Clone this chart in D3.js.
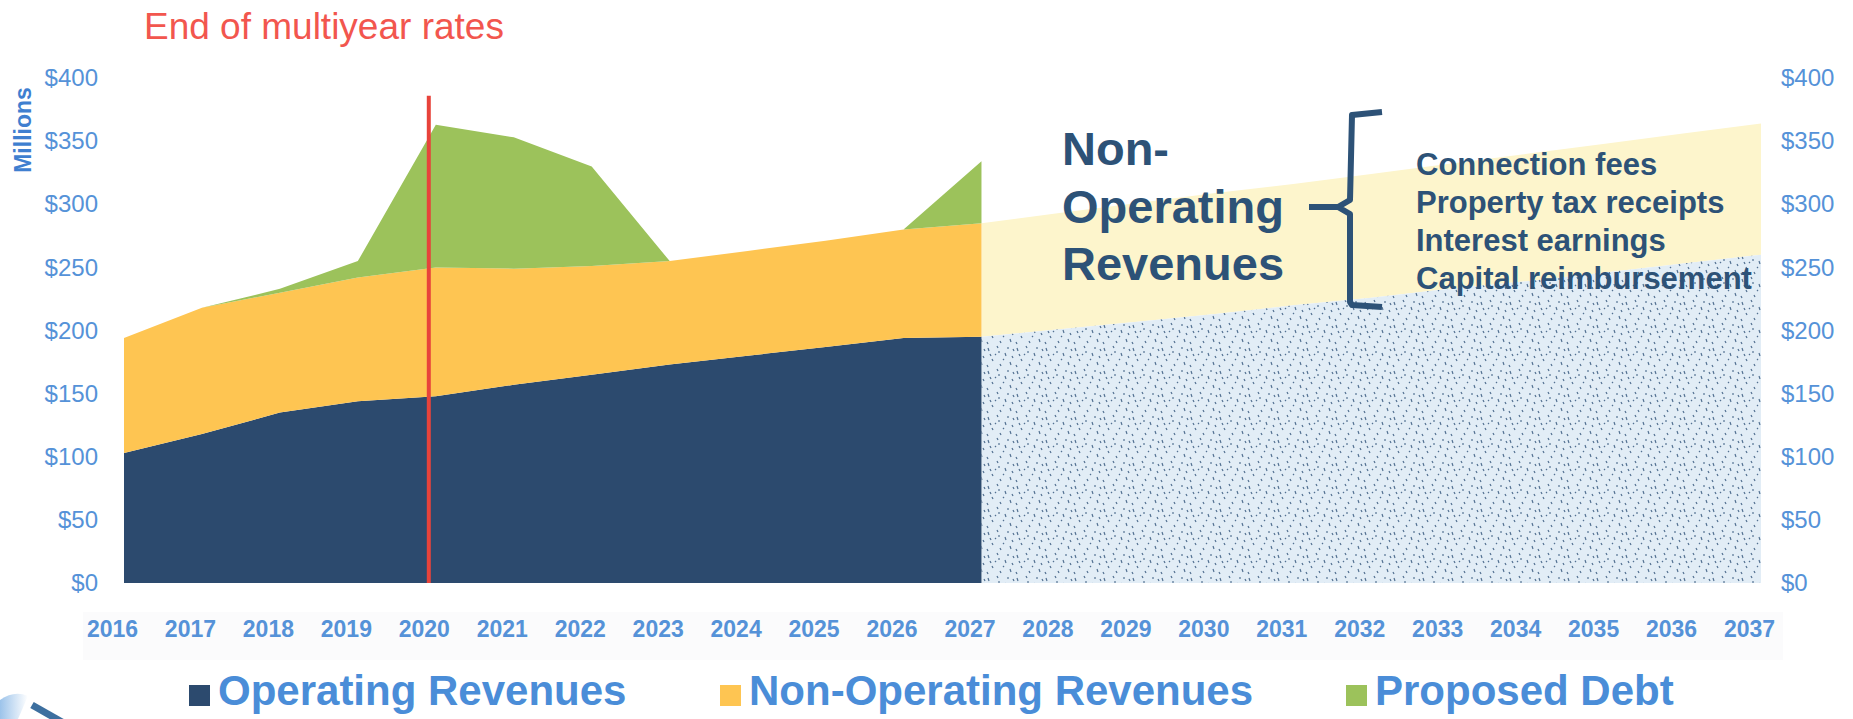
<html>
<head>
<style>
  body { margin: 0; background: #fff; }
  svg { display: block; font-family: "Liberation Sans", Arial, sans-serif; }
  .ytick text { fill: #5592d8; font-size: 24px; }
  .xtick text { fill: #5592d8; font-size: 23px; font-weight: bold; }
  .legend text { fill: #4a8dd8; font-size: 42px; font-weight: bold; }
  .note { fill: #2d5277; font-weight: bold; }
</style>
</head>
<body>
<svg id="container" width="1853" height="719"></svg>
<script src="https://cdn.jsdelivr.net/npm/d3@7"></script>
<script>
  // actual / budget years
  let years = [2016, 2017, 2018, 2019, 2020, 2021, 2022, 2023, 2024, 2025, 2026, 2027]
  let operating = [103, 118, 135, 144, 148, 157, 165, 173, 180, 187, 194, 195]
  let nonOperating = [91, 100, 95, 98, 102, 92, 86, 82, 83, 84, 86, 90]
  let proposedDebt = [0, 0, 3, 13, 113, 104, 79, 0, 0, 0, 0, 49]

  // faded projection, 2027 - 2037
  let projYears = [2027, 2028, 2029, 2030, 2031, 2032, 2033, 2034, 2035, 2036, 2037]
  let projOperating = [195, 201, 207, 213, 220, 226, 233, 239, 246, 253, 260]
  let projNonOperating = [90, 92, 94, 96, 96, 98, 99, 101, 102, 103, 104]

  let axisYears = [2016, 2017, 2018, 2019, 2020, 2021, 2022, 2023, 2024, 2025, 2026,
                   2027, 2028, 2029, 2030, 2031, 2032, 2033, 2034, 2035, 2036, 2037]
  let yTicks = [0, 50, 100, 150, 200, 250, 300, 350, 400]

  let seriesNames = ["Operating Revenues", "Non-Operating Revenues", "Proposed Debt"]
  let seriesColors = ["#2c4a6e", "#fec552", "#9cc25b"]

  let endOfRatesYear = 2019.91
  let endOfRatesTop = 386
  let noteLines = ["Connection fees", "Property tax receipts", "Interest earnings", "Capital reimbursement"]

  let svg = d3.select("#container")

  let xScale = d3.scaleLinear().domain([2016, 2037]).range([124, 1761])
  let yScale = d3.scaleLinear().domain([0, 400]).range([583, 78])

  // faint band behind the year labels
  svg.append("rect")
    .attr("x", 83).attr("y", 612).attr("width", 1700).attr("height", 48)
    .attr("fill", "#fbfbfc")

  // speckle texture for the faded operating projection
  let defs = svg.append("defs")
  let pat = defs.append("pattern")
    .attr("id", "speckle").attr("patternUnits", "userSpaceOnUse")
    .attr("width", 29).attr("height", 23)
  pat.append("rect").attr("width", 29).attr("height", 23).attr("fill", "#e2edf6")
  let marks = [[2, 3, 3, 6], [11, 1, 12, 3], [19, 8, 20, 11], [6, 14, 7, 16], [24, 17, 25, 20],
               [14, 19, 15, 21], [27, 4, 28, 6], [9, 9, 10, 10], [1, 20, 2, 22], [17, 14, 18, 15],
               [22, 2, 22, 4], [4, 9, 5, 11], [13, 6, 13, 8], [26, 11, 27, 13]]
  pat.selectAll("line").data(marks).join("line")
    .attr("x1", d => d[0]).attr("y1", d => d[1]).attr("x2", d => d[2]).attr("y2", d => d[3])
    .attr("stroke", "#2f5279").attr("stroke-width", 1.2).attr("opacity", 0.8)

  // projection areas
  let projData = projYears.map((y, i) => ({year: y, op: projOperating[i], non: projNonOperating[i]}))
  let projStack = d3.stack().keys(["op", "non"])(projData)
  let projArea = d3.area()
    .x(d => xScale(d.data.year))
    .y0(d => yScale(d[0]))
    .y1(d => yScale(d[1]))
  svg.append("path").datum(projStack[1]).attr("d", projArea).attr("fill", "#fdf5cc")
  svg.append("path").datum(projStack[0]).attr("d", projArea).attr("fill", "url(#speckle)")

  // stacked actual areas
  let data = years.map((y, i) => ({year: y, op: operating[i], non: nonOperating[i], debt: proposedDebt[i]}))
  let stacked = d3.stack().keys(["op", "non", "debt"])(data)
  let area = d3.area()
    .x(d => xScale(d.data.year))
    .y0(d => yScale(d[0]))
    .y1(d => yScale(d[1]))
  svg.selectAll(".layer").data(stacked).join("path")
    .attr("class", "layer")
    .attr("d", area)
    .attr("fill", (d, i) => seriesColors[i])

  // end of multiyear rates marker
  svg.append("line")
    .attr("x1", xScale(endOfRatesYear)).attr("x2", xScale(endOfRatesYear))
    .attr("y1", yScale(endOfRatesTop)).attr("y2", yScale(0))
    .attr("stroke", "#e8433b").attr("stroke-width", 4)
  svg.append("text")
    .attr("x", 144).attr("y", 39)
    .attr("fill", "#f2564e").style("font-size", "37px")
    .text("End of multiyear rates")

  // axes
  let leftAxis = svg.append("g")
    .attr("transform", "translate(104,0)")
    .call(d3.axisLeft(yScale).tickValues(yTicks).tickSize(0).tickPadding(6).tickFormat(d => "$" + d))
  let rightAxis = svg.append("g")
    .attr("transform", "translate(1775,0)")
    .call(d3.axisRight(yScale).tickValues(yTicks).tickSize(0).tickPadding(6).tickFormat(d => "$" + d))
  let bottomAxis = svg.append("g")
    .attr("transform", "translate(-12,583)")
    .call(d3.axisBottom(xScale).tickValues(axisYears).tickSize(0).tickPadding(38).tickFormat(d3.format("d")))
  leftAxis.attr("class", "ytick").attr("font-family", null).attr("font-size", null)
  rightAxis.attr("class", "ytick").attr("font-family", null).attr("font-size", null)
  bottomAxis.attr("class", "xtick").attr("font-family", null).attr("font-size", null)
  svg.selectAll(".domain").remove()

  svg.append("text")
    .attr("transform", "translate(31,130) rotate(-90)")
    .attr("text-anchor", "middle")
    .attr("fill", "#3f7fd0").style("font-size", "23px").style("font-weight", "bold")
    .text("Millions")

  // annotation
  let big = svg.append("text").attr("class", "note").style("font-size", "47px")
  big.selectAll("tspan").data(["Non-", "Operating", "Revenues"]).join("tspan")
    .attr("x", 1062).attr("y", (d, i) => 165 + i * 57.5)
    .text(d => d)

  svg.append("path")
    .attr("d", "M1382,112 L1352,115 L1350,200 L1338,207 L1350,214 L1350,302 L1352,305 L1382,307")
    .attr("fill", "none").attr("stroke", "#2d5277").attr("stroke-width", 6)
    .attr("stroke-linejoin", "round")
  svg.append("line")
    .attr("x1", 1309).attr("y1", 207).attr("x2", 1338).attr("y2", 207)
    .attr("stroke", "#2d5277").attr("stroke-width", 6)

  svg.append("g").selectAll("text").data(noteLines).join("text")
    .attr("class", "note")
    .attr("x", 1416).attr("y", (d, i) => 175 + i * 38)
    .style("font-size", "31px")
    .text(d => d)

  // legend
  let legendX = [189, 720, 1346]
  let legend = svg.append("g").attr("class", "legend")
  let item = legend.selectAll("g").data(seriesNames).join("g")
    .attr("transform", (d, i) => "translate(" + legendX[i] + ",0)")
  item.append("rect")
    .attr("y", 685).attr("width", 21).attr("height", 21)
    .attr("fill", (d, i) => seriesColors[i])
  item.append("text")
    .attr("x", 29).attr("y", 705)
    .text(d => d)

  // corner swoosh from the slide template
  let grad = defs.append("linearGradient").attr("id", "swoosh").attr("x1", 0).attr("x2", 1)
  grad.append("stop").attr("offset", 0).attr("stop-color", "#9cc3ea")
  grad.append("stop").attr("offset", 1).attr("stop-color", "#ffffff")
  svg.append("path").attr("d", "M0,719 L0,700 Q14,690 28,696 L18,719 Z").attr("fill", "url(#swoosh)")
  svg.append("line").attr("x1", 32).attr("y1", 705).attr("x2", 62).attr("y2", 722)
    .attr("stroke", "#3d6f9f").attr("stroke-width", 7)
</script>
</body>
</html>
